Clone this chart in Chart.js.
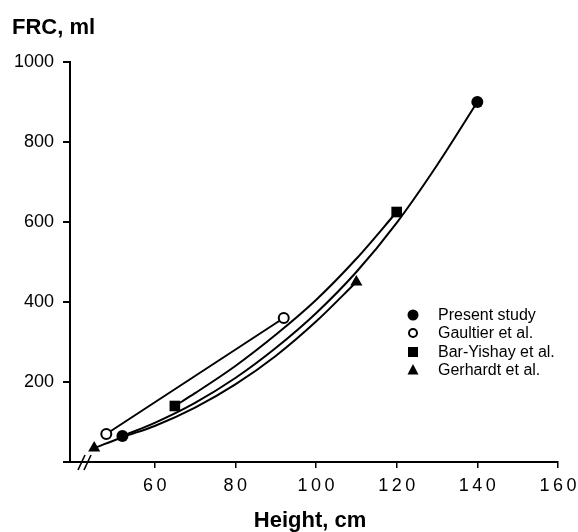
<!doctype html>
<html lang="en">
  <head>
    <meta charset="utf-8">
    <title>FRC vs Height</title>
    <script src="https://cdn.jsdelivr.net/npm/chart.js"></script>
    <style>
      body { margin: 0; background: #fff; }
      #wrap { width: 578px; height: 532px; }
    </style>
  </head>
  <body>
  <div id="wrap"><canvas id="myChart"></canvas></div>
  <script>
    // values (Height cm, FRC ml)
    const legendLabels = ['Present study', 'Gaultier et al.', 'Bar-Yishay et al.', 'Gerhardt et al.'];

    const presentX = [52, 60, 70, 80, 90, 100, 110, 120, 130, 140];
    const presentY = [65, 98, 148, 210, 285, 372, 475, 598, 742, 900];

    const gaultierX = [48, 92];
    const gaultierY = [70, 360];

    const barYishayX = [65, 70, 80, 90, 100, 110, 120];
    const barYishayY = [140, 172, 240, 318, 405, 508, 625];

    const gerhardtX = [45, 52, 60, 70, 80, 90, 100, 110];
    const gerhardtY = [35, 62, 90, 136, 194, 265, 351, 450];

    const xTickValues = [60, 80, 100, 120, 140, 160];
    const yTickValues = [0, 200, 400, 600, 800, 1000];

    const FONT = '"Liberation Sans", Arial, Helvetica, sans-serif';

    function pts(xs, ys) {
        return xs.map((x, i) => ({x: x, y: ys[i]}));
    }

    // marker only at the two ends of each curve
    function endRadius(r) {
        return function(c) {
            let n = c.dataset.data.length;
            return (c.dataIndex === 0 || c.dataIndex === n - 1) ? r : 0;
        };
    }

    function drawMarker(ctx, style, x, y) {
        ctx.save();
        ctx.fillStyle = '#000';
        ctx.strokeStyle = '#000';
        ctx.lineWidth = 2;
        ctx.beginPath();
        if (style === 'circle') {
            ctx.arc(x, y, 5.5, 0, Math.PI * 2);
            ctx.fill();
        } else if (style === 'open') {
            ctx.arc(x, y, 4, 0, Math.PI * 2);
            ctx.fillStyle = '#fff';
            ctx.fill();
            ctx.stroke();
        } else if (style === 'rect') {
            ctx.rect(x - 5, y - 5, 10, 10);
            ctx.fill();
        } else {
            ctx.moveTo(x, y - 6);
            ctx.lineTo(x + 5.5, y + 4.5);
            ctx.lineTo(x - 5.5, y + 4.5);
            ctx.closePath();
            ctx.fill();
        }
        ctx.restore();
    }

    const decor = {
        id: 'decor',
        afterDraw: (chart) => {
            const ctx = chart.ctx;
            const xs = chart.scales.x;
            const ys = chart.scales.y;
            ctx.save();
            ctx.fillStyle = '#000';

            // axis titles
            ctx.font = 'bold 22px ' + FONT;
            ctx.textAlign = 'left';
            ctx.textBaseline = 'alphabetic';
            ctx.fillText('FRC, ml', 12, 34);
            ctx.textAlign = 'center';
            ctx.fillText('Height, cm', 310, 527);

            // x tick labels, widely spaced like the original
            ctx.font = '18px ' + FONT;
            ctx.textAlign = 'left';
            const ls = 3.5;
            ctx.letterSpacing = ls + 'px';
            xTickValues.forEach(v => {
                const s = String(v);
                const w = ctx.measureText(s).width - ls;
                ctx.fillText(s, xs.getPixelForValue(v) - w / 2, 491);
            });
            ctx.letterSpacing = '0px';

            // axis break marks
            ctx.strokeStyle = '#000';
            ctx.lineWidth = 1.6;
            const by = ys.getPixelForValue(0);
            [81, 87].forEach(bx => {
                ctx.beginPath();
                ctx.moveTo(bx - 3, by + 8);
                ctx.lineTo(bx + 4, by - 7);
                ctx.stroke();
            });

            // legend
            const styles = ['circle', 'open', 'rect', 'triangle'];
            const rowY = [315, 333, 352, 370];
            ctx.font = '16px ' + FONT;
            ctx.textBaseline = 'middle';
            legendLabels.forEach((t, i) => {
                drawMarker(ctx, styles[i], 413, rowY[i]);
                ctx.fillStyle = '#000';
                ctx.fillText(t, 438, rowY[i] + 1);
            });
            ctx.restore();
        }
    };

    const ctx = document.getElementById('myChart');
    const myChart = new Chart(ctx, {
        type: 'scatter',
        data: {
            datasets: [{
                label: legendLabels[0],
                data: pts(presentX, presentY),
                showLine: true,
                cubicInterpolationMode: 'monotone',
                borderColor: '#000',
                backgroundColor: '#000',
                borderWidth: 2,
                pointStyle: 'circle',
                pointRadius: endRadius(6),
                pointBorderWidth: 0
            }, {
                label: legendLabels[1],
                data: pts(gaultierX, gaultierY),
                showLine: true,
                tension: 0,
                borderColor: '#000',
                backgroundColor: '#fff',
                borderWidth: 2,
                pointStyle: 'circle',
                pointRadius: 5,
                pointBorderWidth: 2
            }, {
                label: legendLabels[2],
                data: pts(barYishayX, barYishayY),
                showLine: true,
                cubicInterpolationMode: 'monotone',
                borderColor: '#000',
                backgroundColor: '#000',
                borderWidth: 2,
                pointStyle: 'rect',
                pointRadius: endRadius(7.5),
                pointBorderWidth: 0
            }, {
                label: legendLabels[3],
                data: pts(gerhardtX, gerhardtY),
                showLine: true,
                cubicInterpolationMode: 'monotone',
                borderColor: '#000',
                backgroundColor: '#000',
                borderWidth: 2,
                pointStyle: 'triangle',
                pointRadius: endRadius(7),
                pointBorderWidth: 0
            }]
        },
        plugins: [decor],
        options: {
            responsive: true,
            maintainAspectRatio: false,
            animation: false,
            layout: { padding: { left: 0, top: 62, right: 20, bottom: 0 } },
            plugins: {
                legend: { display: false },
                tooltip: { enabled: false }
            },
            scales: {
                x: {
                    type: 'linear',
                    min: 39,
                    max: 160,
                    afterBuildTicks: (s) => { s.ticks = xTickValues.map(v => ({value: v})); },
                    afterFit: (s) => { s.height = 70; },
                    border: { color: '#000', width: 2 },
                    grid: { drawOnChartArea: false, color: '#000', lineWidth: 1.5, tickLength: 6 },
                    ticks: { display: false }
                },
                y: {
                    min: 0,
                    max: 1000,
                    afterBuildTicks: (s) => { s.ticks = yTickValues.map(v => ({value: v})); },
                    afterFit: (s) => { s.width = 70; },
                    border: { color: '#000', width: 2 },
                    grid: { drawOnChartArea: false, color: '#000', lineWidth: 2, tickLength: 7 },
                    ticks: {
                        color: '#000',
                        padding: 9,
                        font: { size: 18, family: FONT },
                        callback: (v) => v === 0 ? '' : v
                    }
                }
            }
        }
    });
  </script>
  </body>
</html>
